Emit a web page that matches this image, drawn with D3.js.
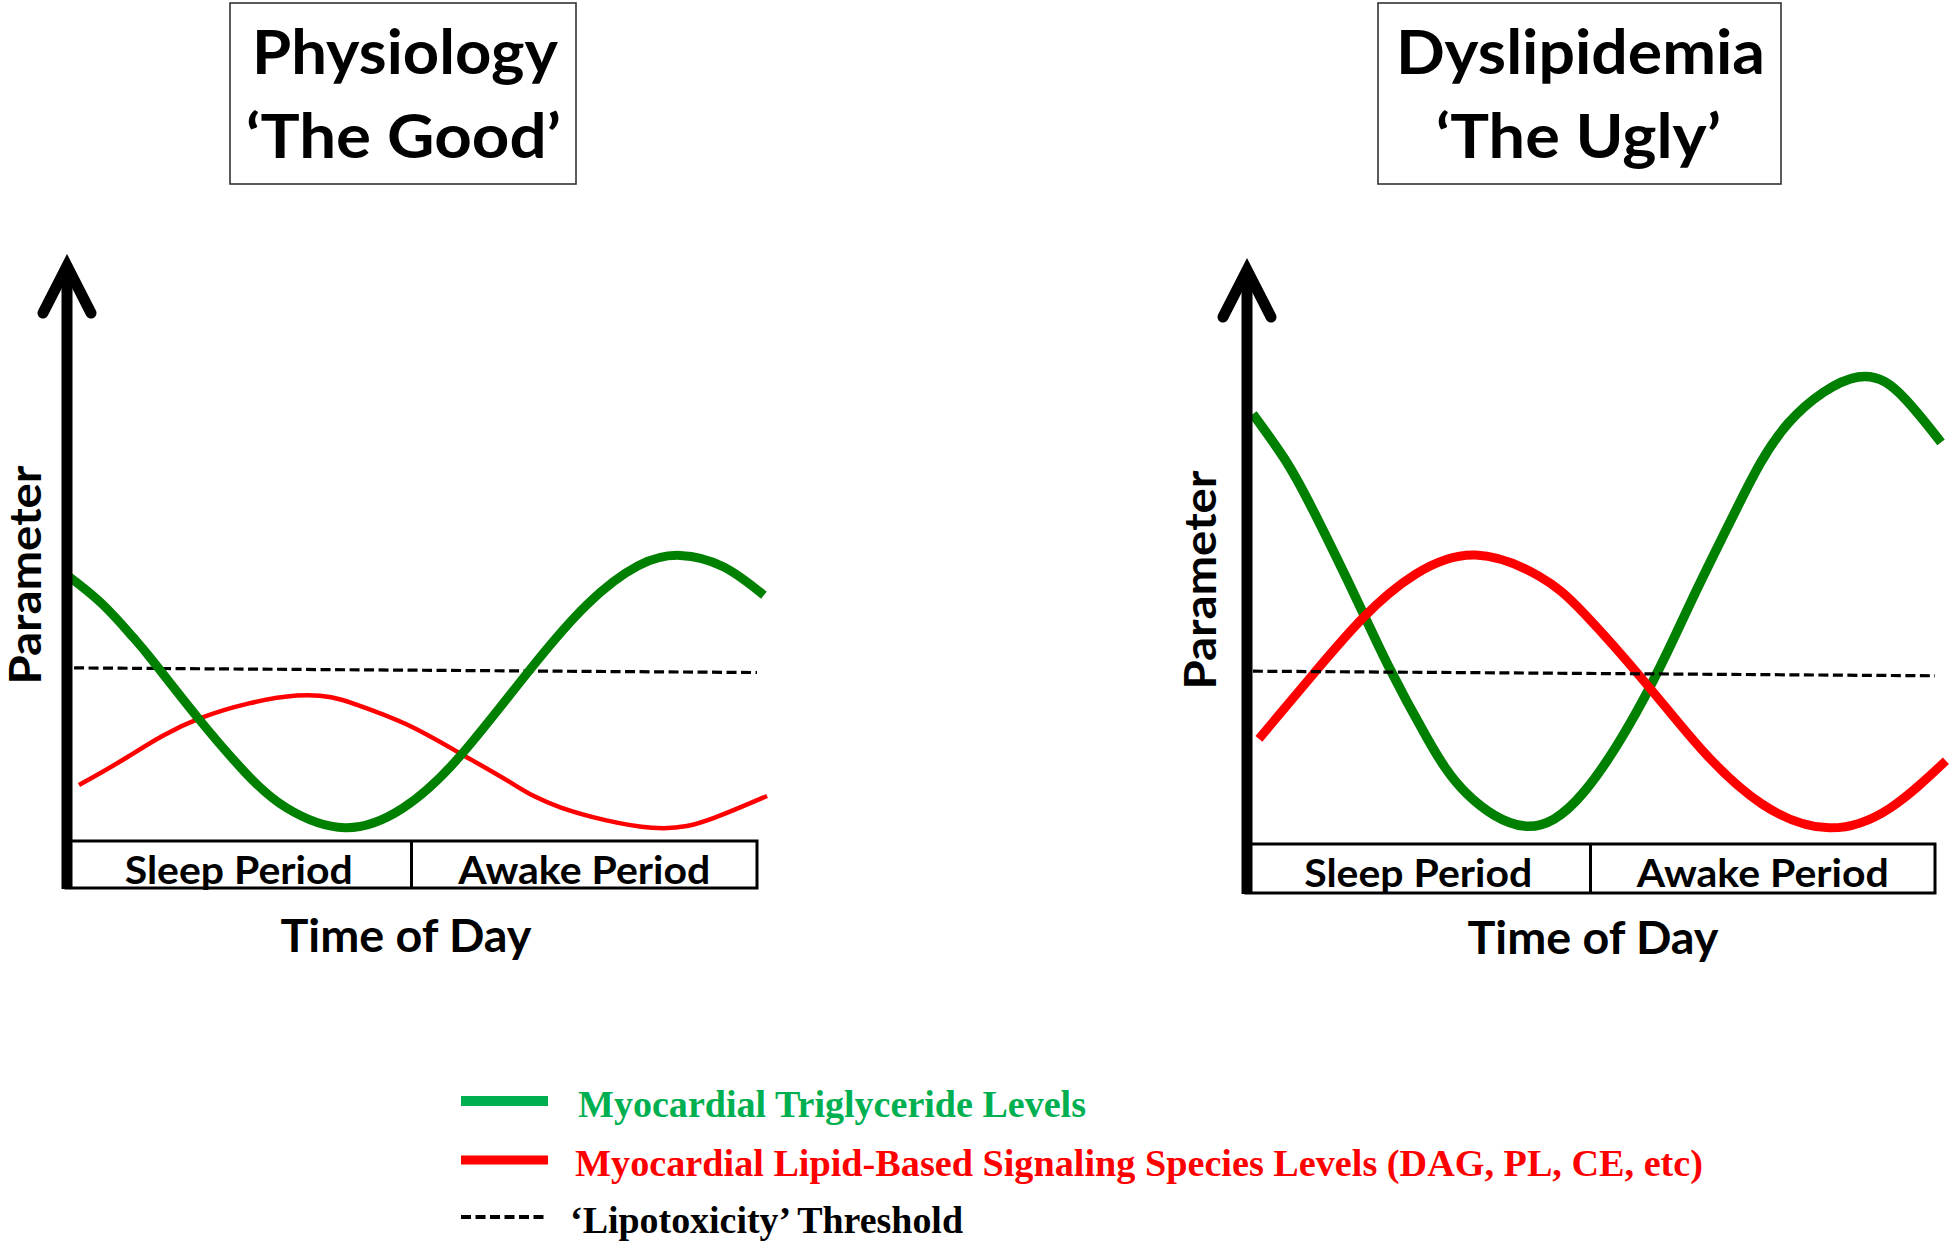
<!DOCTYPE html>
<html><head><meta charset="utf-8">
<script src="https://cdn.jsdelivr.net/npm/d3@7"></script>
<style>body{margin:0;background:#fff}</style></head>
<body>
<svg id="c" width="1950" height="1243"></svg>
<script>
// ---------------- DATA ----------------
const periods = ["Sleep Period", "Awake Period"];
const periodBounds = [0, 12, 24];           // hours
const goodTitle = ["Physiology", "‘The Good’"];
const uglyTitle = ["Dyslipidemia", "‘The Ugly’"];
const yLabel = "Parameter";
const xLabel = "Time of Day";
const legendLabels = [
  "Myocardial Triglyceride Levels",
  "Myocardial Lipid-Based Signaling Species Levels (DAG, PL, CE, etc)",
  "‘Lipotoxicity’ Threshold"
];
// [hour, value] pairs, value on 0-100 scale (0 = baseline, 100 = arrow tip)
const goodTriglyceride = [[0,46.2],[1.25,41.1],[2.33,35.3],[3.0,31.3],[4.62,21.1],[6.22,11.9],[7.64,5.8],[9.69,2.3],[11.70,5.7],[13.65,14.5],[16.05,29.3],[18.10,41.0],[19.87,47.7],[21.33,49.5],[22.85,47.5],[24.24,42.6]];
const goodSignaling    = [[0.45,9.7],[2.15,14.6],[4.62,21.2],[8.02,25.2],[10.11,23.6],[11.88,20.1],[13.65,15.3],[15.42,10.2],[17.19,5.8],[20.35,2.3],[22.51,4.0],[24.35,7.8]];
const goodThreshold    = [[0.28,30.0],[24,29.2]];
const uglyTriglyceride = [[0.24,74.4],[1.32,66.8],[2.37,57.4],[3.97,41.1],[4.94,31.0],[6.30,18.4],[7.69,8.7],[9.70,3.1],[11.79,9.1],[13.98,26.3],[15.51,42.0],[17.11,58.2],[18.89,72.8],[21.32,80.8],[22.96,77.0],[24.21,69.5]];
const uglySignaling    = [[0.45,18.2],[2.19,28.5],[4.07,39.1],[5.91,46.7],[8.00,50.0],[10.19,46.4],[11.79,39.8],[13.98,27.5],[15.86,16.4],[17.98,6.9],[20.31,2.8],[22.43,6.2],[24.38,14.4]];
const uglyThreshold    = [[0.24,29.9],[24,29.1]];

// ---------------- STYLE / LAYOUT ----------------
const GREEN = "#008000", RED = "#ff0000", LGREEN = "#00b050";
const SANS = "Lato, 'Open Sans', sans-serif";
const SERIF = "'Liberation Serif', 'Times New Roman', serif";

const panels = [
  { title: goodTitle, tg: goodTriglyceride, sg: goodSignaling, th: goodThreshold,
    x0: 66, x1: 757, boxTop: 841, boxBottom: 888, yTop: 264, tip: 262,
    tBox: [230, 3, 576, 184], tCenters: [405, 403.5], tWidths: [306, 315],
    pX: 41, pCY: 575, tCX: 406, tBase: 952, lblBase: 884, order: ["sg","th","tg"],
    wTG: 9, wSG: 4.5 },
  { title: uglyTitle, tg: uglyTriglyceride, sg: uglySignaling, th: uglyThreshold,
    x0: 1246, x1: 1935, boxTop: 844, boxBottom: 893, yTop: 266, tip: 266,
    tBox: [1378, 3, 1781, 184], tCenters: [1580.5, 1578.5], tWidths: [369, 285],
    pX: 1216, pCY: 580, tCX: 1593, tBase: 954, lblBase: 887, order: ["tg","sg","th"],
    wTG: 9.5, wSG: 9 }
];
const lblWidths = [228, 252];

const svg = d3.select("#c");

function fitText(sel, w) {
  sel.attr("textLength", w).attr("lengthAdjust", "spacingAndGlyphs");
  return sel;
}

panels.forEach(p => {
  const g = svg.append("g");
  const x = d3.scaleLinear().domain([0, 24]).range([p.x0, p.x1]);
  const y = d3.scaleLinear().domain([0, 100]).range([p.boxTop, p.yTop]);

  // title box
  g.append("rect").attr("x", p.tBox[0]).attr("y", p.tBox[1])
    .attr("width", p.tBox[2] - p.tBox[0]).attr("height", p.tBox[3] - p.tBox[1])
    .attr("fill", "none").attr("stroke", "#333").attr("stroke-width", 1.6);
  p.title.forEach((t, i) => {
    fitText(g.append("text").attr("x", p.tCenters[i]).attr("y", i === 0 ? 74 : 158)
      .attr("text-anchor", "middle").attr("font-family", SANS).attr("font-weight", 700)
      .attr("font-size", 61).attr("fill", "#000").text(t), p.tWidths[i]);
  });

  const line = d3.line().x(d => x(d[0])).y(d => y(d[1])).curve(d3.curveNatural);
  const draw = {
    tg: () => g.append("path").datum(p.tg).attr("d", line).attr("fill", "none")
      .attr("stroke", GREEN).attr("stroke-width", p.wTG),
    sg: () => g.append("path").datum(p.sg).attr("d", line).attr("fill", "none")
      .attr("stroke", RED).attr("stroke-width", p.wSG),
    th: () => g.append("path").datum(p.th).attr("d", d3.line().x(d => x(d[0])).y(d => y(d[1])))
      .attr("fill", "none").attr("stroke", "#000").attr("stroke-width", 3.2)
      .attr("stroke-dasharray", "10,4.5")
  };
  p.order.forEach(k => draw[k]());

  // period box
  const xs = periodBounds.map(x);
  g.append("rect").attr("x", xs[0]).attr("y", p.boxTop).attr("width", xs[2] - xs[0])
    .attr("height", p.boxBottom - p.boxTop).attr("fill", "none")
    .attr("stroke", "#000").attr("stroke-width", 3);
  g.append("line").attr("x1", xs[1]).attr("x2", xs[1]).attr("y1", p.boxTop).attr("y2", p.boxBottom)
    .attr("stroke", "#000").attr("stroke-width", 3);
  periods.forEach((lab, i) => {
    fitText(g.append("text").attr("x", (xs[i] + xs[i + 1]) / 2).attr("y", p.lblBase)
      .attr("text-anchor", "middle").attr("font-family", SANS).attr("font-weight", 700)
      .attr("font-size", 39).text(lab), lblWidths[i]);
  });

  // y axis with arrow
  const ax = p.x0 + 1;
  g.append("line").attr("x1", ax).attr("x2", ax).attr("y1", p.boxBottom + 1).attr("y2", p.tip + 8)
    .attr("stroke", "#000").attr("stroke-width", 11);
  g.append("path").attr("d", `M${ax - 24},${p.tip + 51} L${ax},${p.tip + 4} L${ax + 24},${p.tip + 51}`)
    .attr("fill", "none").attr("stroke", "#000").attr("stroke-width", 11)
    .attr("stroke-linecap", "round").attr("stroke-linejoin", "miter");

  // axis labels
  fitText(g.append("text").attr("transform", `translate(${p.pX},${p.pCY}) rotate(-90)`)
    .attr("text-anchor", "middle").attr("font-family", SANS).attr("font-weight", 700)
    .attr("font-size", 43).text(yLabel), 219);
  fitText(g.append("text").attr("x", p.tCX).attr("y", p.tBase)
    .attr("text-anchor", "middle").attr("font-family", SANS).attr("font-weight", 700)
    .attr("font-size", 45).text(xLabel), 251);
});

// legend
const leg = svg.append("g");
const legItems = [
  { color: LGREEN, text: legendLabels[0], y: 1101, w: 10, dash: null, tx: 578, base: 1117, tw: 508 },
  { color: RED, text: legendLabels[1], y: 1160, w: 9, dash: null, tx: 575, base: 1176, tw: 1128 },
  { color: "#000", text: legendLabels[2], y: 1217, w: 4, dash: "10,4.5", tx: 570, base: 1233, tw: 393 }
];
legItems.forEach(it => {
  const l = leg.append("line").attr("x1", 461).attr("x2", 548).attr("y1", it.y).attr("y2", it.y)
    .attr("stroke", it.color).attr("stroke-width", it.w);
  if (it.dash) l.attr("stroke-dasharray", it.dash);
  fitText(leg.append("text").attr("x", it.tx).attr("y", it.base).attr("font-family", SERIF)
    .attr("font-weight", 700).attr("font-size", 38).attr("fill", it.color).text(it.text), it.tw);
});
</script>
</body></html>
